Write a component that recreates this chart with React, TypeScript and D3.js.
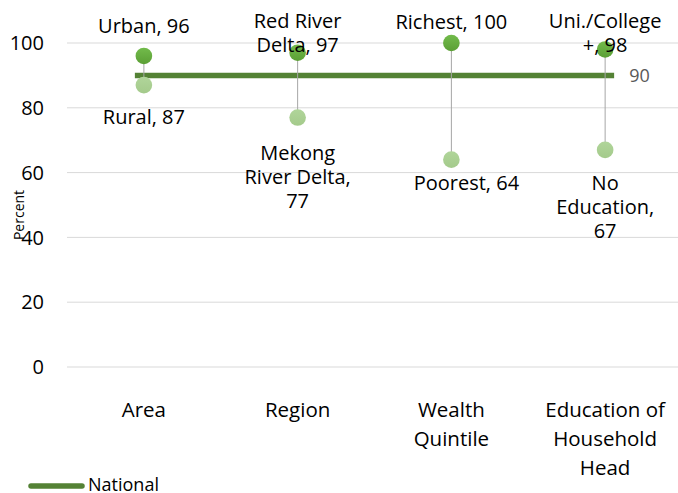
import React from "react";
import * as d3 from "d3";

// ---- data ----
const categories = ["Area", "Region", "Wealth Quintile", "Education of Household Head"];
const categoryLines = [["Area"], ["Region"], ["Wealth", "Quintile"], ["Education of", "Household", "Head"]];
const highNames = ["Urban", "Red River Delta", "Richest", "Uni./College +"];
const highValues = [96, 97, 100, 98];
const lowNames = ["Rural", "Mekong River Delta", "Poorest", "No Education"];
const lowValues = [87, 77, 64, 67];
const nationalValue = 90;
const yTicks = [0, 20, 40, 60, 80, 100];

// ---- layout ----
const W = 678;
const H = 493;
const FONT = "'Open Sans', 'Noto Sans', sans-serif";
const highLabelBaseline = [33, 27.5, 29, 27.5];
const lowLabelBaseline = [124, 159.5, 189.5, 189.5];
const lowLabelDx = [0, 0, 15, 0];
const LABEL_LH = 24;
const LABEL_MAX_W = 116;

function wrap(text: string, font: string, maxW: number): string[] {
  const canvas = document.createElement("canvas");
  const ctx = canvas.getContext("2d")!;
  ctx.font = font;
  const words = text.split(" ");
  const lines: string[] = [];
  let cur = "";
  for (const w of words) {
    const t = cur ? cur + " " + w : w;
    if (cur && ctx.measureText(t).width > maxW) {
      lines.push(cur);
      cur = w;
    } else cur = t;
  }
  if (cur) lines.push(cur);
  return lines;
}

export default function App() {
  const x = d3.scaleBand<string>().domain(categories).range([67, 682]).padding(0);
  const y = d3.scaleLinear().domain([0, 100]).range([367, 43]);
  const cx = (i: number) => (x(categories[i]) as number) + x.bandwidth() / 2;
  const labelFont = `20px 'Open Sans'`;

  const natX1 = cx(0) - 9;
  const natX2 = cx(categories.length - 1) + 9;

  return (
    <svg width={W} height={H} style={{ position: "absolute", left: 0, top: 0, background: "#fff" }}>
      <defs>
        <linearGradient id="gHigh" x1="0" y1="0" x2="0" y2="1">
          <stop offset="0" stopColor="#72bb4b" />
          <stop offset="1" stopColor="#5b9f35" />
        </linearGradient>
        <linearGradient id="gLow" x1="0" y1="0" x2="0" y2="1">
          <stop offset="0" stopColor="#b0d59a" />
          <stop offset="1" stopColor="#a4ca8b" />
        </linearGradient>
      </defs>
      {/* gridlines */}
      {yTicks.map((t) => (
        <line key={"g" + t} x1={67} x2={W} y1={y(t)} y2={y(t)} stroke="#d9d9d9" strokeWidth={1} />
      ))}
      {/* y tick labels */}
      {yTicks.map((t) => (
        <text key={"t" + t} x={44} y={y(t)} dy="0.36em" textAnchor="end" fontFamily={FONT} fontSize={20} fill="#000">
          {t}
        </text>
      ))}
      <text transform={`translate(24,215) rotate(-90)`} textAnchor="middle" fontFamily={FONT} fontSize={14} fill="#000">
        Percent
      </text>
      {/* category labels */}
      {categoryLines.map((lines, i) => (
        <text key={"c" + i} x={cx(i)} y={417} textAnchor="middle" fontFamily={FONT} fontSize={20.5} fill="#000">
          {lines.map((l, j) => (
            <tspan key={j} x={cx(i)} dy={j === 0 ? 0 : 29}>
              {l}
            </tspan>
          ))}
        </text>
      ))}
      {/* national line */}
      <line x1={natX1} x2={natX2} y1={y(nationalValue)} y2={y(nationalValue)} stroke="#548235" strokeWidth={5.5} />
      <text x={natX2 + 15} y={y(nationalValue)} dy="0.36em" fontFamily={FONT} fontSize={18} fill="#595959">
        {nationalValue}
      </text>
      {/* connectors */}
      {categories.map((c, i) => (
        <line key={"l" + i} x1={cx(i)} x2={cx(i)} y1={y(highValues[i])} y2={y(lowValues[i])} stroke="#a6a6a6" strokeWidth={1} />
      ))}
      {/* dots */}
      {categories.map((c, i) => (
        <circle key={"lo" + i} cx={cx(i)} cy={y(lowValues[i])} r={8.3} fill="url(#gLow)" />
      ))}
      {categories.map((c, i) => (
        <circle key={"hi" + i} cx={cx(i)} cy={y(highValues[i])} r={8.3} fill="url(#gHigh)" />
      ))}
      {/* data labels */}
      {highNames.map((n, i) => {
        const lines = wrap(`${n}, ${highValues[i]}`, labelFont, LABEL_MAX_W);
        return (
          <text key={"hl" + i} x={cx(i)} y={highLabelBaseline[i]} textAnchor="middle" fontFamily={FONT} fontSize={20} fill="#000">
            {lines.map((l, j) => (
              <tspan key={j} x={cx(i)} dy={j === 0 ? 0 : LABEL_LH}>
                {l}
              </tspan>
            ))}
          </text>
        );
      })}
      {lowNames.map((n, i) => {
        const lines = wrap(`${n}, ${lowValues[i]}`, labelFont, LABEL_MAX_W);
        return (
          <text key={"ll" + i} x={cx(i) + lowLabelDx[i]} y={lowLabelBaseline[i]} textAnchor="middle" fontFamily={FONT} fontSize={20} fill="#000">
            {lines.map((l, j) => (
              <tspan key={j} x={cx(i) + lowLabelDx[i]} dy={j === 0 ? 0 : LABEL_LH}>
                {l}
              </tspan>
            ))}
          </text>
        );
      })}
      {/* legend */}
      <line x1={31} x2={82} y1={486} y2={486} stroke="#548235" strokeWidth={5.5} strokeLinecap="round" />
      <text x={88} y={491} fontFamily={FONT} fontSize={18} fill="#000">
        National
      </text>
    </svg>
  );
}
